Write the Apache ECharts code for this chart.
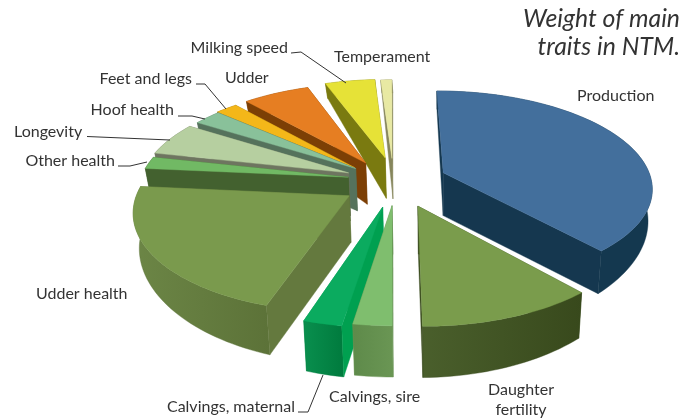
<!DOCTYPE html>
<html>
<head>
<meta charset="utf-8">
<style>html,body{margin:0;padding:0;background:#fff}#c{width:696px;height:418px}</style>
<script src="https://cdn.jsdelivr.net/npm/echarts@6/dist/echarts.min.js"></script>
</head>
<body>
<div id="c"></div>
<script>
// Data (share of NTM, clockwise from 12 o'clock)
var traits = ['Production','Daughter fertility','Calvings, sire','Calvings, maternal','Udder health','Other health','Longevity','Hoof health','Feet and legs','Udder','Milking speed','Temperament'];
var weights = [38.5, 11.5, 2.5, 2.5, 21.5, 2, 5.5, 2.5, 2, 6, 4.5, 1];

// Presentation
var topColors  = ['#436F9C','#7A9C4C','#7FBE6E','#0BAB5F','#7A9A4D','#71B964','#B6CFA0','#89C19A','#F4B719','#E67E22','#E6E237','#E8E9A3'];
var wallColors = ['#15374F','#3A4B1E','#5E8A4A','#00A050','#64793E','#43612F','#6E7560','#55725C','#946F10','#7C3F05','#7A7A10','#86865C'];
var rimLeft    = ['#14384F','#4A5F2C','#5E8A4A','#098F4E','#6C8646','#43612F','#6E7560','#55725C','#946F10','#7C3F05','#7A7A10','#86865C'];
var rimRight   = ['#14384F','#38491C','#6A9654','#007A3D','#5C7238','#43612F','#6E7560','#55725C','#946F10','#7C3F05','#7A7A10','#86865C'];
var shiftX     = [53, 26, 1, -8, -41, -43, -43, -36, -37, -26, -6, 1];
var shiftY     = [23, -50, -49, -52, -28, 13, 23, 33, 35, 46, 58, 57];
var drawOrder  = [11, 10, 9, 8, 7, 6, 5, 4, 3, 2, 1, 0];

var labelText = [
  {t:'Production', x:577, y:96, a:'left'},
  {t:'Daughter', x:521, y:390, a:'center'},
  {t:'fertility', x:521, y:410, a:'center'},
  {t:'Calvings, sire', x:329, y:397, a:'left'},
  {t:'Calvings, maternal', x:295, y:407, a:'right'},
  {t:'Udder health', x:36, y:294, a:'left'},
  {t:'Other health', x:115, y:161, a:'right'},
  {t:'Longevity', x:14, y:132, a:'left'},
  {t:'Hoof health', x:174, y:110, a:'right'},
  {t:'Feet and legs', x:192, y:79, a:'right'},
  {t:'Udder', x:225, y:78, a:'left'},
  {t:'Milking speed', x:288, y:48, a:'right'},
  {t:'Temperament', x:334, y:57, a:'left'}
];
var leaders = [
  [[323,375],[308,412],[298,412]],
  [[118,166],[130,166],[147,162]],
  [[87,136.5],[170,140]],
  [[178,116],[192,116],[205,119]],
  [[196,84],[205,84],[226,109]],
  [[291,53],[301,52],[346,83]]
];

// Projection of the tilted disc
var CX = 391, CY = 183, RX = 209, RY = 215, SQUASH = 0.447, PERSP = 0.141, BOTTOM_IN = 0.98;
function project(X, Y) {
  var s = 1 / (1 + PERSP * Y / RY);
  return [CX + X * s, CY - Y * SQUASH * s];
}
function depthAt(X, Y) {
  var u = X / RX, v = Y / RY;
  return (45 - 15 * v - 8 * v * v) * (1 - 0.2 * u * u);
}
function lower(X, Y) {
  var p = project(X, Y);
  return [CX + 50 + (p[0] - CX - 50) * BOTTOM_IN, p[1] + depthAt(X, Y)];
}

var total = weights.reduce(function (a, b) { return a + b; }, 0);
var starts = [];
weights.reduce(function (acc, w, i) { starts[i] = acc; return acc + w; }, 0);

var sliceData = drawOrder.map(function (i) {
  return { value: [i, starts[i] / total * 360, (starts[i] + weights[i]) / total * 360], name: traits[i] };
});

function shape(points, fill, edge) {
  return { type: 'polygon', shape: { points: points }, style: { fill: fill, stroke: edge || fill, lineWidth: 0.4 } };
}
function faces(a, b) { // edge a->b in clockwise order; visible when its outward side looks down the screen
  return (b[0] - a[0]) < 0;
}

function renderSlice(params, api) {
  var i = api.value(0), a0 = api.value(1) * Math.PI / 180, a1 = api.value(2) * Math.PI / 180;
  var ax = shiftX[i], ay = shiftY[i];
  var rim = [], n = Math.max(4, Math.ceil((a1 - a0) / 0.03));
  for (var k = 0; k <= n; k++) {
    var t = a0 + (a1 - a0) * k / n;
    rim.push([ax + RX * Math.sin(t), ay + RY * Math.cos(t)]);
  }
  var apexT = project(ax, ay), apexB = lower(ax, ay);
  var rimT = rim.map(function (p) { return project(p[0], p[1]); });
  var rimB = rim.map(function (p) { return lower(p[0], p[1]); });
  var first = rimT[0], last = rimT[rimT.length - 1];
  var wallA = [apexT, first, rimB[0], apexB];
  var wallB = [last, apexT, apexB, rimB[rimB.length - 1]];
  var arc = rimT.concat(rimB.slice().reverse());
  var arcFill = { type: 'linear', x: 0, y: 0, x2: 1, y2: 0, colorStops: [{ offset: 0, color: rimLeft[i] }, { offset: 1, color: rimRight[i] }] };
  var kids = [], visA = faces(apexT, first), visB = faces(last, apexT);
  if (!visA) kids.push(shape(wallA, wallColors[i]));
  if (!visB) kids.push(shape(wallB, wallColors[i]));
  kids.push(shape(arc, arcFill, rimRight[i]));
  if (visA) kids.push(shape(wallA, wallColors[i]));
  if (visB) kids.push(shape(wallB, wallColors[i]));
  kids.push(shape([apexT].concat(rimT), topColors[i]));
  return { type: 'group', children: kids };
}

var graphics = [];
leaders.forEach(function (pts) {
  graphics.push({ type: 'polyline', silent: true, z: 10, shape: { points: pts }, style: { stroke: '#333', lineWidth: 1, fill: null } });
});
labelText.forEach(function (l) {
  graphics.push({ type: 'text', silent: true, z: 10, x: l.x, y: l.y, style: { text: l.t, fill: '#333', font: '16px Lato', align: l.a, verticalAlign: 'middle' } });
});
graphics.push({ type: 'text', silent: true, z: 10, x: 680, y: 19, style: { text: 'Weight of main', fill: '#333', font: 'italic 24.8px Lato', align: 'right', verticalAlign: 'middle' } });
graphics.push({ type: 'text', silent: true, z: 10, x: 680, y: 47, style: { text: 'traits in NTM.', fill: '#333', font: 'italic 24.8px Lato', align: 'right', verticalAlign: 'middle' } });

var chart = echarts.init(document.getElementById('c'), null, { renderer: 'canvas' });
chart.setOption({
  animation: false,
  backgroundColor: '#fff',
  graphic: graphics,
  series: [{ type: 'custom', coordinateSystem: 'none', renderItem: renderSlice, data: sliceData, silent: true, clip: false }]
});
</script>
</body>
</html>
